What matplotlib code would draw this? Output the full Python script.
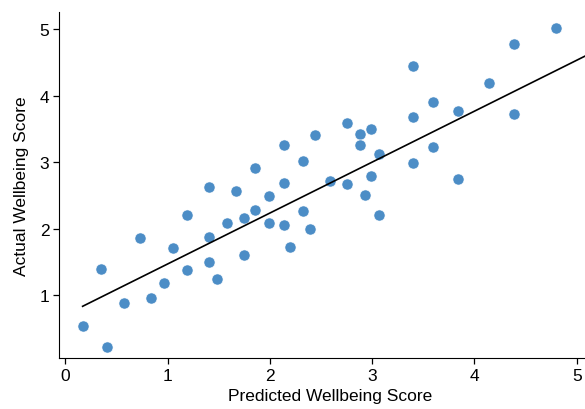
import numpy as np
import matplotlib
matplotlib.use('Agg')
from matplotlib import pyplot as plt

predicted = [0.17, 0.41, 0.35, 0.57, 0.73, 0.84, 0.965, 1.05, 1.19, 1.19,
             1.41, 1.41, 1.41, 1.48, 1.58, 1.67, 1.75, 1.75, 1.86, 1.86,
             1.99, 1.99, 2.14, 2.14, 2.20, 2.32, 2.39, 2.14, 2.32, 2.44,
             2.59, 2.75, 2.75, 2.88, 2.88, 2.99, 2.99, 2.93, 3.07, 3.07,
             3.40, 3.40, 3.40, 3.60, 3.60, 3.84, 3.84, 4.14, 4.39, 4.39, 4.80]
actual = [0.54, 0.22, 1.39, 0.875, 1.85, 0.96, 1.18, 1.70, 1.37, 2.21,
          2.62, 1.87, 1.49, 1.245, 2.09, 2.56, 2.16, 1.60, 2.91, 2.28,
          2.49, 2.08, 2.69, 2.05, 1.72, 2.26, 2.00, 3.26, 3.02, 3.41,
          2.72, 3.58, 2.67, 3.42, 3.26, 3.49, 2.79, 2.50, 3.12, 2.21,
          4.45, 3.68, 2.98, 3.90, 3.23, 3.77, 2.75, 4.19, 4.77, 3.72, 5.02]
x_ticks = [0, 1, 2, 3, 4, 5]
y_ticks = [1, 2, 3, 4, 5]

# fitted line
slope = 0.766
intercept = 0.70

plt.rcParams['font.family'] = ['Liberation Sans', 'DejaVu Sans']

x = np.array(predicted)
y = np.array(actual)

fig = plt.figure(figsize=(5.85, 4.10), dpi=100)
ax = fig.add_axes([0.101, 0.1244, 1.026 - 0.101, 0.969 - 0.1244])

ax.scatter(x, y, s=64, color='#4c8dc6', edgecolors='white', linewidths=0.4, zorder=2)
xl = np.array([x.min(), 6.0])
ax.plot(xl, intercept + slope * xl, color='black', linewidth=1.2, zorder=3)

ax.set_xlim(-0.06, 5.23)
ax.set_ylim(0.053, 5.26)
ax.set_xticks(x_ticks)
ax.set_yticks(y_ticks)
ax.spines['top'].set_visible(False)
ax.spines['right'].set_visible(False)
ax.tick_params(direction='out', length=4, width=0.9, labelsize=12.5, pad=3)
ax.set_xlabel('Predicted Wellbeing Score', fontsize=12.5, labelpad=4)
ax.set_ylabel('Actual Wellbeing Score', fontsize=12.5, labelpad=8)

fig.savefig('out.png', dpi=100)
